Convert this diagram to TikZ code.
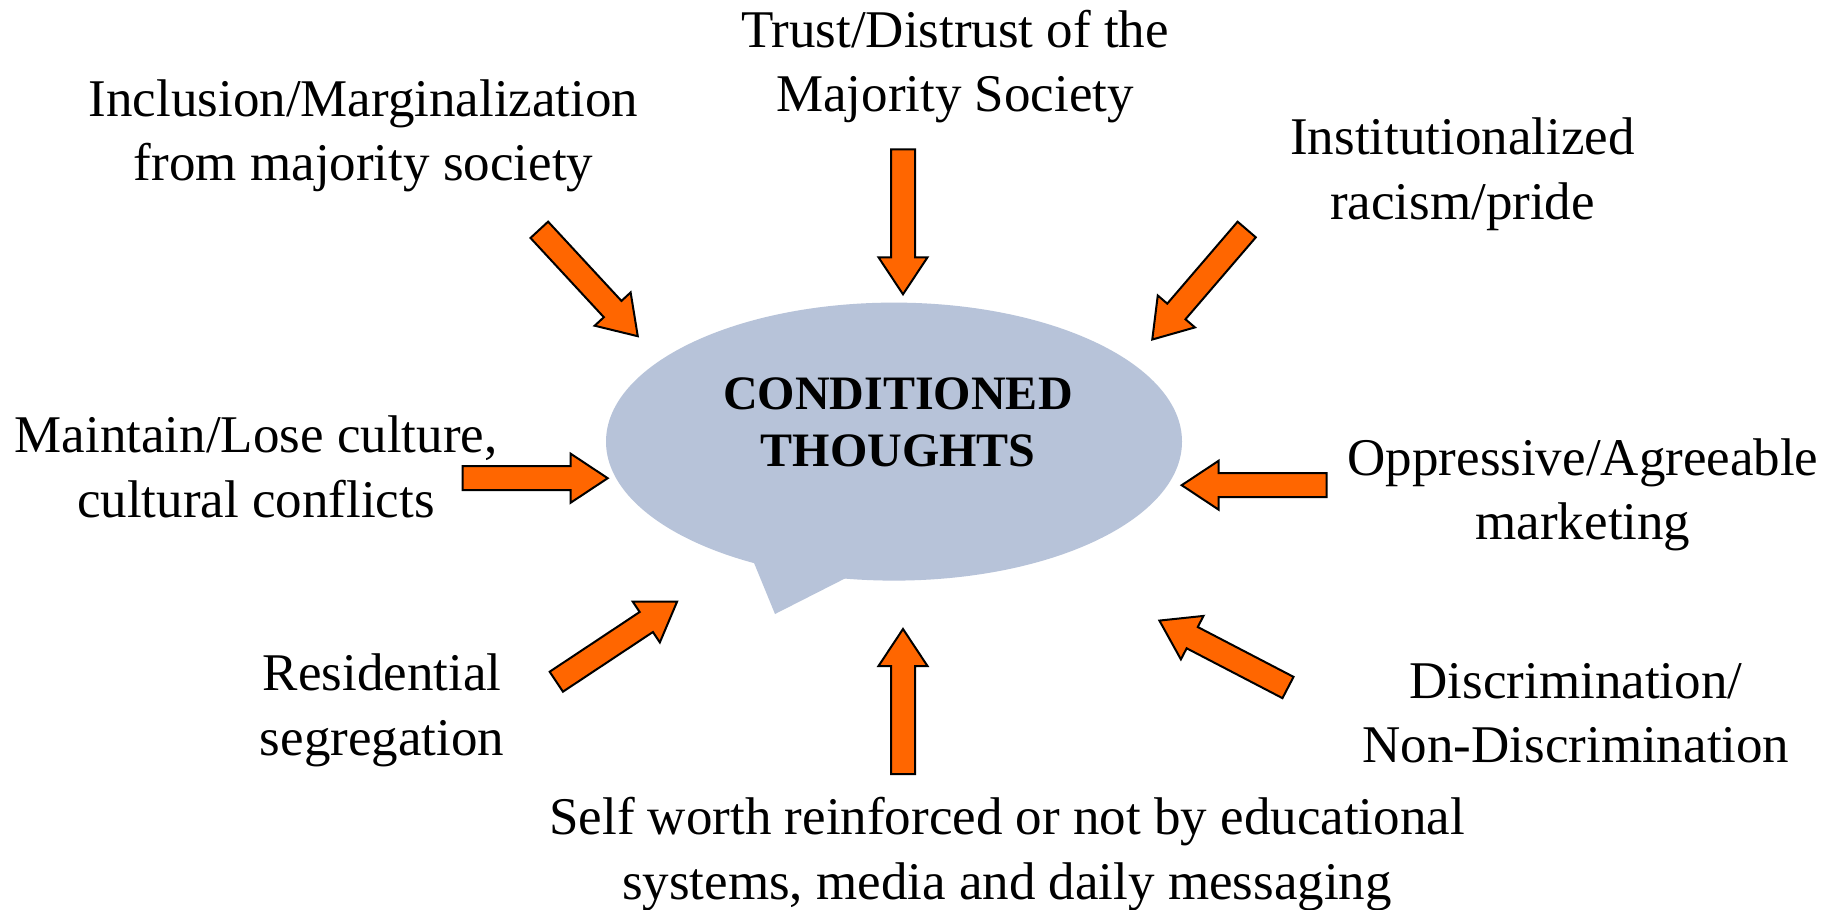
\documentclass[tikz,border=0pt]{standalone}
\usepackage{fontspec}
\setmainfont{Liberation Serif}
\usetikzlibrary{calc}

\definecolor{pushorange}{HTML}{FF6600}
\definecolor{bubbleblue}{HTML}{B7C3D9}

% block arrow, tail at the origin, pointing along +x
\tikzset{
  thrust/.pic={
    \draw[draw=black,line width=2pt,fill=pushorange,line join=miter]
      (0,-12) -- (108,-12) -- (108,-24.5) -- (145,0) -- (108,24.5) -- (108,12) -- (0,12) -- cycle;
  }
}

% block arrow from #1 towards #2
\newcommand{\pushArrow}[2]{%
  \path let \p1 = ($(#2)-(#1)$), \n1 = {atan2(\y1,\x1)} in (#1) pic[rotate=\n1] {thrust};}

\begin{document}
\begin{tikzpicture}
[x=1pt,y=-1pt,
 factor/.style={align=center,font={\fontsize{53}{64.5}\selectfont}},
 headline/.style={align=center,font={\fontsize{48}{56.7}\selectfont\bfseries}}]
\useasboundingbox[fill=white] (0,0) rectangle (1839,910);

% speech bubble
\fill[bubbleblue] (750.9,555.3) -- (775,614) -- (850.6,575.6) -- cycle;
\fill[bubbleblue] (894,441.6) ellipse [x radius=288, y radius=139];
\node[headline] (thought) at (898,422) {CONDITIONED\\THOUGHTS};

% the factors around it
\node[factor] (incl) at (363.6,136) {Inclusion/Marginalization\\from majority society};
\node[factor] (trust) at (955,66.8) {Trust/Distrust of the\\Majority Society};
\node[factor] (inst) at (1462.5,174.2) {Institutionalized\\racism/pride};
\node[factor] (keep) at (256,467) {Maintain/Lose culture,\\cultural conflicts};
\node[factor] (mark) at (1583,495) {Oppressive/Agreeable\\marketing};
\node[factor] (resid) at (382,710.5) {Residential\\segregation};
\node[factor] (discr) at (1576,713) {Discrimination/\\Non-Discrimination};
\node[factor] (self) at (1007,854) {Self worth reinforced or not by educational\\systems, media and daily messaging};

% arrow ends
\coordinate (incl-s) at (539.3,229.8);  \coordinate (incl-e) at (637.3,335.7);
\coordinate (trust-s) at (903,149.3);   \coordinate (trust-e) at (903,294);
\coordinate (inst-s) at (1246.7,229.5); \coordinate (inst-e) at (1153.3,338.3);
\coordinate (keep-s) at (462.7,478.2);  \coordinate (keep-e) at (607.7,478.2);
\coordinate (mark-s) at (1326.7,485.2); \coordinate (mark-e) at (1182.7,485.2);
\coordinate (resid-s) at (556.3,681.7); \coordinate (resid-e) at (676,602.3);
\coordinate (discr-s) at (1288,687.5);  \coordinate (discr-e) at (1158.3,620);
\coordinate (self-s) at (903,774);      \coordinate (self-e) at (903,629.3);

\foreach \f in {incl,trust,inst,keep,mark,resid,discr,self}
  \pushArrow{\f-s}{\f-e};

\end{tikzpicture}
\end{document}
